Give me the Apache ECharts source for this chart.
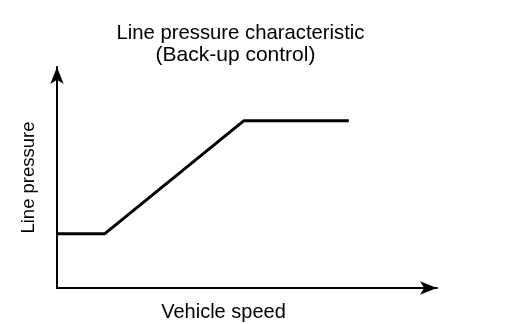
<!DOCTYPE html>
<html>
<head>
<meta charset="utf-8">
<script src="https://cdn.jsdelivr.net/npm/echarts@6/dist/echarts.min.js"></script>
<style>html,body{margin:0;padding:0;background:#fff}#c{width:512px;height:324px}</style>
</head>
<body>
<div id="c"></div>
<script>
var speed = [0, 12.6, 49.2, 76.8];
var pressure = [24.6, 24.6, 75.7, 75.7];
var titleLines = ['Line pressure characteristic', '(Back-up control)'];
var xName = 'Vehicle speed';
var yName = 'Line pressure';

var chart = echarts.init(document.getElementById('c'), null, {renderer: 'canvas'});
var font = 'Liberation Sans';
chart.setOption({
  animation: false,
  backgroundColor: '#fff',
  title: [{
    text: titleLines[0],
    left: 235.5, top: 18, textAlign: 'center',
    textStyle: {fontFamily: font, fontSize: 20.3, fontWeight: 'normal', color: '#000'}
  }, {
    text: titleLines[1],
    left: 230.5, top: 40, textAlign: 'center',
    textStyle: {fontFamily: font, fontSize: 21, fontWeight: 'normal', color: '#000'}
  }],
  grid: {left: 57, right: 75, top: 67, bottom: 36, outerBoundsMode: 'none', containLabel: false},
  xAxis: {
    type: 'value', min: 0, max: 100,
    name: xName, nameLocation: 'middle', nameGap: 14,
    nameTextStyle: {fontFamily: font, fontSize: 20, color: '#000', padding: [0, 0, 0, -47]},
    axisLine: {show: true, symbol: ['none', 'arrow'], symbolSize: [10, 17], lineStyle: {color: '#000', width: 2}},
    axisTick: {show: false}, axisLabel: {show: false}, splitLine: {show: false}
  },
  yAxis: {
    type: 'value', min: 0, max: 100,
    name: yName, nameLocation: 'middle', nameGap: 19, nameRotate: 90,
    nameTextStyle: {fontFamily: font, fontSize: 18.5, color: '#000'},
    axisLine: {show: true, symbol: ['none', 'arrow'], symbolSize: [10, 17], lineStyle: {color: '#000', width: 2}},
    axisTick: {show: false}, axisLabel: {show: false}, splitLine: {show: false}
  },
  series: [{
    type: 'line',
    data: speed.map(function (s, i) { return [s, pressure[i]]; }),
    showSymbol: false, symbol: 'none',
    lineStyle: {color: '#000', width: 3}
  }]
});
</script>
</body>
</html>
